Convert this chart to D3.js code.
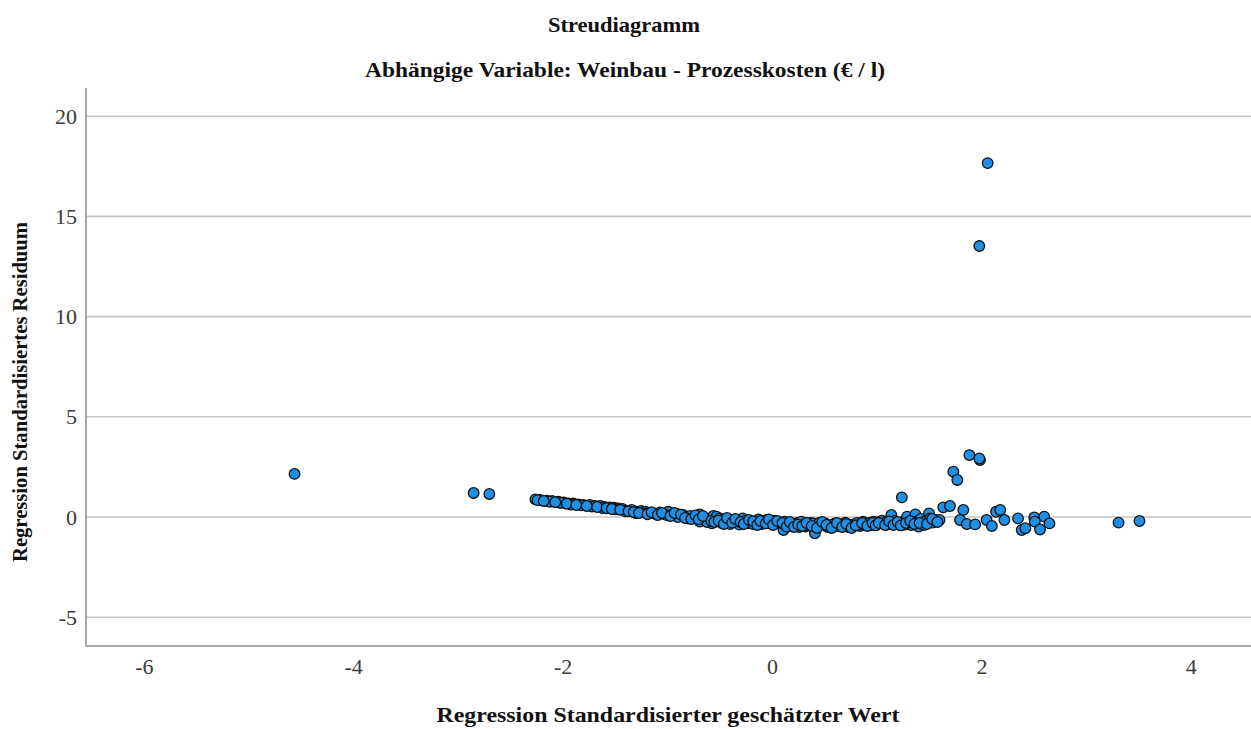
<!DOCTYPE html>
<html><head><meta charset="utf-8">
<script src="https://cdn.jsdelivr.net/npm/d3@7"></script>
<style>html,body{margin:0;padding:0;background:#fff;} svg{display:block;}</style>
</head><body>
<script>
// Data: standardized predicted value (x) and standardized residual (y)
const predicted = [
-4.56,-2.85,-2.70,2.06,1.98,1.885,1.987,1.98,1.732,1.77,1.24,
-2.26,-2.22,-2.15,-2.10,-2.04,-1.99,-1.945,-1.90,-1.85,-1.80,-1.74,-1.69,-1.64,-1.60,-1.55,-1.51,-1.47,-1.43,-1.39,-1.34,-1.29,-1.25,-1.21,-1.17,-1.13,-1.07,-1.03,-0.99,-0.95,-0.91,-0.88,-0.85,-0.82,-0.78,-0.75,-0.72,-0.69,-0.69,-0.67,-0.64,-0.60,-0.575,-0.56,-0.53,-0.50,-0.48,-0.45,-0.42,-0.40,-0.37,-0.34,-0.31,-0.28,-0.26,-0.23,-0.20,-0.16,-0.13,-0.10,-0.08,-0.05,-0.02,0.00,0.03,0.06,0.09,0.11,0.12,0.15,0.18,0.20,0.24,0.26,0.28,0.30,0.32,0.35,0.37,0.395,0.41,0.44,0.47,0.51,0.53,0.56,0.60,0.63,0.66,0.70,0.73,0.75,0.78,0.81,0.84,0.87,0.90,0.93,0.97,1.00,1.03,1.05,1.06,1.09,1.13,1.14,1.17,1.21,1.25,1.29,1.30,1.33,1.37,1.38,1.40,1.42,1.445,1.47,1.50,1.51,1.535,1.56,1.60,1.636,1.70,1.827,1.796,1.86,1.94,2.05,2.10,2.14,2.18,2.22,2.35,2.385,2.42,2.505,2.51,2.56,2.60,2.65,3.31,3.51,
-0.62,-0.47,-0.33,-0.18,0.02,0.08,0.22,0.45,0.58,0.68,0.85,0.95,1.10,1.18,1.27,1.35,1.45,-0.80,-0.90,-1.00,-1.10,-1.20,-1.30,-1.40,-1.50,-1.62,-1.72,-1.82,-1.92,-2.02,-2.12,
-2.24,-2.18,-2.07,-1.96,-1.87,-1.77,-1.67,-1.58,-1.53,-1.45,-1.37,-1.32,-1.27,-1.19,-1.15,-1.09,-1.05,-0.97,-0.93,-0.87,-0.83,-0.77,-0.73,-0.70,-0.66,-0.58,-0.55,-0.51,-0.46,-0.43,-0.38,-0.35,-0.30,-0.27,-0.22,-0.18,-0.14,-0.11,-0.06,-0.03,0.01,0.05,0.10,0.14,0.17,0.21,0.25,0.29,0.33,0.38,0.43,0.48,0.52,0.57,0.62,0.67,0.71,0.76,0.80,0.86,0.91,0.96,0.99,1.02,1.08,1.12,1.16,1.20,1.23,1.28,1.32,1.36,1.41,1.48,1.53,1.58
];
const residual = [
2.15,1.20,1.15,17.66,13.52,3.09,2.84,2.92,2.26,1.85,0.98,
0.88,0.86,0.81,0.80,0.76,0.72,0.68,0.67,0.63,0.60,0.60,0.55,0.55,0.50,0.48,0.46,0.43,0.40,0.31,0.35,0.26,0.30,0.26,0.20,0.18,0.23,0.15,0.26,0.12,0.15,0.05,0.10,0.00,0.05,-0.05,0.02,0.13,-0.23,-0.05,-0.15,-0.10,-0.32,0.05,0.02,-0.07,-0.30,-0.23,-0.15,-0.35,-0.15,-0.28,-0.38,-0.07,-0.20,-0.32,-0.25,-0.30,-0.12,-0.35,-0.22,-0.15,-0.30,-0.35,-0.18,-0.28,-0.40,-0.65,-0.23,-0.35,-0.45,-0.40,-0.30,-0.50,-0.23,-0.38,-0.48,-0.40,-0.30,-0.32,-0.81,-0.45,-0.38,-0.32,-0.50,-0.42,-0.32,-0.45,-0.38,-0.28,-0.50,-0.40,-0.40,-0.30,-0.45,-0.23,-0.38,-0.30,-0.23,-0.35,-0.23,-0.18,-0.32,-0.25,-0.35,0.10,-0.20,-0.35,-0.25,0.02,-0.32,-0.40,0.13,-0.23,-0.48,-0.10,-0.32,-0.20,0.18,-0.07,-0.28,-0.15,-0.15,0.48,0.55,0.35,-0.15,-0.35,-0.37,-0.15,-0.45,0.26,0.35,-0.15,-0.07,-0.65,-0.56,-0.02,-0.23,-0.62,0.02,-0.32,-0.28,-0.20,
-0.25,-0.12,-0.22,-0.35,-0.25,-0.30,-0.35,-0.30,-0.38,-0.42,-0.35,-0.40,-0.38,-0.30,-0.38,-0.28,-0.40,-0.08,0.00,0.08,0.12,0.18,0.20,0.28,0.38,0.45,0.52,0.58,0.62,0.70,0.76,
0.84,0.80,0.74,0.66,0.60,0.55,0.50,0.44,0.40,0.36,0.28,0.24,0.20,0.14,0.24,0.10,0.20,0.05,0.20,0.12,-0.05,-0.10,0.08,-0.12,0.05,-0.20,-0.25,-0.18,-0.35,-0.05,-0.28,-0.10,-0.25,-0.35,-0.15,-0.22,-0.40,-0.20,-0.32,-0.12,-0.40,-0.20,-0.30,-0.48,-0.25,-0.50,-0.38,-0.45,-0.30,-0.45,-0.55,-0.25,-0.40,-0.55,-0.30,-0.50,-0.35,-0.55,-0.42,-0.30,-0.45,-0.30,-0.42,-0.30,-0.40,-0.22,-0.40,-0.25,-0.42,-0.30,-0.20,-0.35,-0.30,-0.35,-0.10,-0.25
];
const xTicks = [-6,-4,-2,0,2,4];
const yTicks = [-5,0,5,10,15,20];
const chartTitle = "Streudiagramm";
const chartSubtitle = "Abhängige Variable: Weinbau - Prozesskosten (€ / l)";
const xTitle = "Regression Standardisierter geschätzter Wert";
const yTitle = "Regression Standardisiertes Residuum";

const W = 1251, H = 729;
const mLeft = 86, mRight = 1251, mTop = 88, mBottom = 646;
const font = "'Liberation Serif','Times New Roman',serif";

const x = d3.scaleLinear().domain([-6.552, 4.575]).range([mLeft, mRight]);
const y = d3.scaleLinear().domain([-6.437, 21.407]).range([mBottom, mTop]);

const svg = d3.select("body").append("svg").attr("width", W).attr("height", H);

// gridlines
svg.append("g").selectAll("line").data(yTicks).join("line")
  .attr("x1", mLeft).attr("x2", mRight)
  .attr("y1", d => y(d)).attr("y2", d => y(d))
  .attr("stroke", "#c6c6c6").attr("stroke-width", 1.6);

// axes
const yAxis = svg.append("g").attr("transform", `translate(${mLeft},0)`)
  .call(d3.axisLeft(y).tickValues(yTicks).tickSize(0).tickPadding(9).tickFormat(d => String(d)));
const xAxis = svg.append("g").attr("transform", `translate(0,${mBottom})`)
  .call(d3.axisBottom(x).tickValues(xTicks).tickSize(0).tickPadding(12).tickFormat(d => String(d)));
[yAxis, xAxis].forEach(g => {
  g.select(".domain").remove();
  g.selectAll("text").attr("font-family", font).attr("font-size", 22).attr("fill", "#3a3a3a");
});
svg.append("line").attr("x1", mLeft).attr("x2", mLeft).attr("y1", mTop).attr("y2", mBottom + 1)
  .attr("stroke", "#a8a8a8").attr("stroke-width", 2);
svg.append("line").attr("x1", mLeft).attr("x2", mRight).attr("y1", mBottom).attr("y2", mBottom)
  .attr("stroke", "#a8a8a8").attr("stroke-width", 2.2);

// points
const pts = predicted.map((p, i) => ({x: p, y: residual[i]}));
svg.append("g").selectAll("circle").data(pts).join("circle")
  .attr("cx", d => x(d.x)).attr("cy", d => y(d.y)).attr("r", 5.3)
  .attr("fill", "#1f8fe6").attr("stroke", "#111").attr("stroke-width", 1.3);

// titles
function title(txt, px, py, len, rot) {
  const t = svg.append("text").attr("text-anchor", "middle")
    .attr("font-family", font).attr("font-weight", "bold").attr("font-size", 21)
    .attr("fill", "#111").attr("textLength", len).attr("lengthAdjust", "spacingAndGlyphs").text(txt);
  if (rot) t.attr("transform", `translate(${px},${py}) rotate(-90)`);
  else t.attr("x", px).attr("y", py);
}
title(chartTitle, 624, 32, 152);
title(chartSubtitle, 625, 77, 520);
title(xTitle, 668, 722, 463);
title(yTitle, 27, 392, 340, true);
</script>
</body></html>
